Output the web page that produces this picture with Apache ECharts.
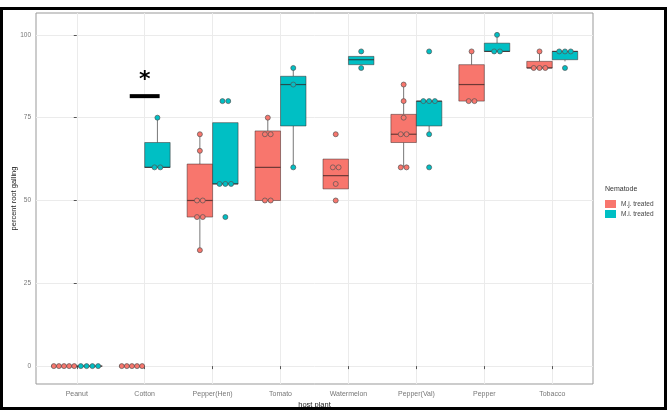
<!DOCTYPE html>
<html>
<head>
<meta charset="utf-8">
<script src="https://cdn.jsdelivr.net/npm/echarts@6/dist/echarts.min.js"></script>
<style>
  html, body { margin: 0; padding: 0; background: #fff; }
  #chart { width: 668px; height: 410px; }
  .frame {
    position: absolute; left: 0; top: 7px; width: 667px; height: 403px;
    box-sizing: border-box; border: 3px solid #000; pointer-events: none;
  }
</style>
</head>
<body>
<div id="chart"></div>
<div class="frame"></div>
<script>
const categories = ['Peanut', 'Cotton', 'Pepper(Hen)', 'Tomato', 'Watermelon', 'Pepper(Val)', 'Pepper', 'Tobacco']
const groups = ['M.j. treated', 'M.i. treated']
const yTicks = [0, 25, 50, 75, 100]

// [min, Q1, median, Q3, max] per category
const redBoxes = [
  [0, 0, 0, 0, 0],
  [0, 0, 0, 0, 0],
  [35, 45, 50, 61, 70],
  [50, 50, 60, 71, 75],
  [53.5, 53.5, 57.5, 62.5, 62.5],
  [60, 67.5, 70, 76, 85],
  [80, 80, 85, 91, 95],
  [90, 90, 90, 92, 95]
]
const cyanBoxes = [
  [0, 0, 0, 0, 0],
  [60, 60, 60, 67.5, 75],
  [55, 55, 55, 73.5, 73.5],
  [60, 72.5, 85, 87.5, 90],
  [91, 91, 92.5, 93.5, 93.5],
  [70, 72.5, 80, 80, 80],
  [95, 95, 95, 97.5, 100],
  [92, 92.5, 95, 95, 95]
]

// observed points per category
const redPoints = [
  [0, 0, 0, 0, 0],
  [0, 0, 0, 0, 0],
  [70, 65, 50, 50, 45, 45, 35],
  [75, 70, 70, 50, 50],
  [70, 60, 60, 55, 50],
  [85, 80, 75, 70, 70, 60, 60],
  [95, 80, 80],
  [95, 90, 90, 90]
]
const cyanPoints = [
  [0, 0, 0, 0],
  [75, 60, 60],
  [80, 80, 55, 55, 55, 45],
  [90, 85, 60],
  [95, 90],
  [95, 80, 80, 80, 70, 60],
  [100, 95, 95],
  [95, 95, 95, 90]
]

const sigCategory = 'Cotton'
const sigLevel = 81.5
const sigLabel = '*'

const colors = ['#F8766D', '#00BFC4']
const dodge = 0.1875
const boxHalf = 0.1875

function boxData(stats) {
  return stats.map((s, i) => [i, ...s])
}

// spread repeated values side by side inside the box
function pointData(lists, offset) {
  const out = []
  lists.forEach((vals, i) => {
    const seen = {}
    vals.forEach((v) => { seen[v] = (seen[v] || 0) + 1 })
    const used = {}
    vals.forEach((v) => {
      const n = seen[v]
      const k = used[v] || 0
      used[v] = k + 1
      const step = Math.min(0.085, 0.3 / Math.max(n - 1, 1))
      out.push([i + offset + (k - (n - 1) / 2) * step, v])
    })
  })
  return out
}

function renderBox(offset, color) {
  return function (params, api) {
    const x = api.value(0) + offset
    const half = api.size([boxHalf, 0])[0]
    const lo = api.coord([x, api.value(1)])
    const q1 = api.coord([x, api.value(2)])
    const med = api.coord([x, api.value(3)])
    const q3 = api.coord([x, api.value(4)])
    const hi = api.coord([x, api.value(5)])
    const whisker = { stroke: '#777', lineWidth: 1 }
    return {
      type: 'group',
      children: [
        { type: 'line', shape: { x1: hi[0], y1: hi[1], x2: q3[0], y2: q3[1] }, style: whisker },
        { type: 'line', shape: { x1: q1[0], y1: q1[1], x2: lo[0], y2: lo[1] }, style: whisker },
        {
          type: 'rect',
          shape: { x: q3[0] - half, y: q3[1], width: half * 2, height: q1[1] - q3[1] },
          style: { fill: color, stroke: 'rgba(60,40,40,0.5)', lineWidth: 1 }
        },
        {
          type: 'line',
          shape: { x1: med[0] - half, y1: med[1], x2: med[0] + half, y2: med[1] },
          style: { stroke: 'rgba(50,30,30,0.7)', lineWidth: 1.2 }
        }
      ]
    }
  }
}

const chart = echarts.init(document.getElementById('chart'))

const sigIndex = categories.indexOf(sigCategory)

chart.setOption({
  animation: false,
  textStyle: { fontFamily: 'Liberation Sans, Arial, sans-serif' },
  title: {
    text: 'Nematode',
    left: 600,
    top: 181,
    textStyle: { fontSize: 7, fontWeight: 'normal', color: '#333' }
  },
  legend: {
    orient: 'vertical',
    left: 600,
    top: 195,
    itemWidth: 11,
    itemHeight: 8,
    itemGap: 2,
    textStyle: { fontSize: 6.5, color: '#444' },
    data: [
      { name: groups[0], icon: 'rect', itemStyle: { color: colors[0] } },
      { name: groups[1], icon: 'rect', itemStyle: { color: colors[1] } }
    ]
  },
  grid: {
    left: 36, right: 75, top: 13, bottom: 26,
    outerBoundsMode: 'none',
    containLabel: false,
    show: true, borderColor: '#999', borderWidth: 1, backgroundColor: '#fff'
  },
  xAxis: {
    type: 'value',
    min: -0.6,
    max: 7.6,
    interval: 1,
    name: 'host plant',
    nameLocation: 'middle',
    nameGap: 17,
    nameMoveOverlap: false,
    nameTextStyle: { fontSize: 7.5, color: '#222' },
    axisLine: { show: false },
    axisTick: { show: true, length: 3, lineStyle: { color: '#555' }, customValues: categories.map((c, i) => i) },
    axisLabel: {
      fontSize: 7, color: '#777', margin: 7,
      customValues: categories.map((c, i) => i),
      formatter: (v) => categories[Math.round(v)] || ''
    },
    splitLine: { show: true, lineStyle: { color: '#ebebeb', width: 1 } }
  },
  yAxis: {
    type: 'value',
    min: -5.4,
    max: 106.6,
    interval: 12.5,
    name: 'percent root galling',
    nameLocation: 'middle',
    nameGap: 18,
    nameMoveOverlap: false,
    nameTextStyle: { fontSize: 7.5, color: '#222' },
    axisLine: { show: false },
    axisTick: { show: true, length: 3, lineStyle: { color: '#555' }, customValues: yTicks },
    axisLabel: { fontSize: 6.5, color: '#777', margin: 5, customValues: yTicks },
    splitLine: { show: true, lineStyle: { color: '#ebebeb', width: 1 } }
  },
  series: [
    {
      name: groups[0],
      type: 'custom',
      itemStyle: { color: colors[0] },
      renderItem: renderBox(-dodge, colors[0]),
      encode: { x: 0, y: [1, 2, 3, 4, 5] },
      data: boxData(redBoxes),
      z: 2
    },
    {
      name: groups[1],
      type: 'custom',
      itemStyle: { color: colors[1] },
      renderItem: renderBox(dodge, colors[1]),
      encode: { x: 0, y: [1, 2, 3, 4, 5] },
      data: boxData(cyanBoxes),
      z: 2
    },
    {
      name: groups[0],
      type: 'scatter',
      symbolSize: 5,
      itemStyle: { color: colors[0], borderColor: '#555', borderWidth: 0.7, opacity: 1 },
      data: pointData(redPoints, -dodge),
      z: 3
    },
    {
      name: groups[1],
      type: 'scatter',
      symbolSize: 5,
      itemStyle: { color: colors[1], borderColor: '#555', borderWidth: 0.7, opacity: 1 },
      data: pointData(cyanPoints, dodge),
      z: 3
    },
    {
      name: 'sig',
      type: 'custom',
      data: [[sigIndex, sigLevel]],
      renderItem: function (params, api) {
        const left = api.coord([api.value(0) - 0.22, api.value(1)])
        const right = api.coord([api.value(0) + 0.22, api.value(1)])
        return {
          type: 'group',
          children: [
            { type: 'line', shape: { x1: left[0], y1: left[1], x2: right[0], y2: right[1] }, style: { stroke: '#000', lineWidth: 4 } },
            {
              type: 'text',
              style: {
                x: (left[0] + right[0]) / 2, y: left[1] - 5, text: sigLabel,
                fontSize: 22, fontWeight: 'bold', fill: '#000', align: 'center', verticalAlign: 'bottom',
                fontFamily: 'DejaVu Sans'
              }
            }
          ]
        }
      },
      z: 4
    }
  ]
})
</script>
</body>
</html>
